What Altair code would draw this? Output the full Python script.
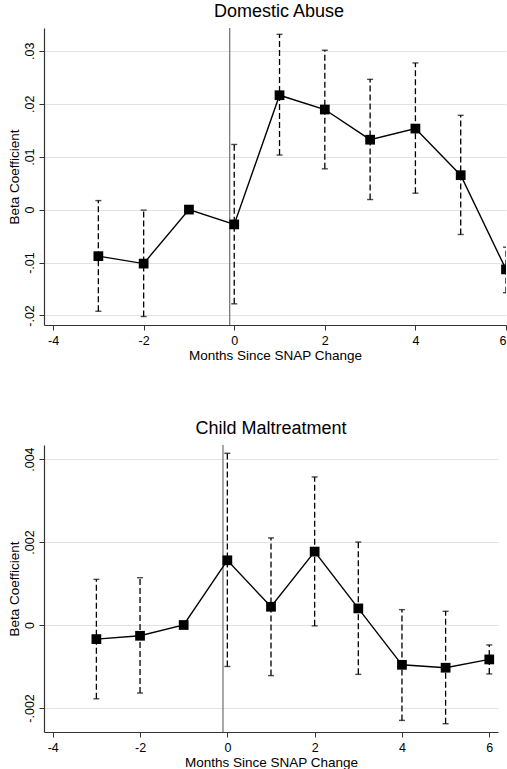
import altair as alt
import pandas as pd

months = [-3, -2, -1, 0, 1, 2, 3, 4, 5, 6]

# Domestic Abuse
da_beta = [-0.0088, -0.0102, 0.0, -0.0028, 0.0216, 0.0189, 0.0132, 0.0153, 0.0065, -0.0113]
da_lo = [-0.0192, -0.0202, None, -0.0178, 0.0103, 0.0077, 0.0019, 0.0031, -0.0047, -0.0157]
da_hi = [0.0017, -0.0001, None, 0.0123, 0.0331, 0.0301, 0.0246, 0.0277, 0.0178, -0.0071]

# Child Maltreatment
cm_beta = [-0.00034, -0.00026, 0.0, 0.00156, 0.00044, 0.00177, 0.00040, -0.00096, -0.00103, -0.00083]
cm_lo = [-0.00178, -0.00164, None, -0.00100, -0.00122, -0.00002, -0.00119, -0.00230, -0.00238, -0.00118]
cm_hi = [0.00110, 0.00114, None, 0.00414, 0.00210, 0.00357, 0.00200, 0.00037, 0.00033, -0.00048]

x_ticks = [-4, -2, 0, 2, 4, 6]
event_line = -0.1

FONT = "Liberation Sans"


def panel(title, beta, lo, hi, xdom, ydom, yticks, yfmt, width, height, title_dx):
    df = pd.DataFrame({"month": months, "beta": beta, "lo": lo, "hi": hi})
    xs = alt.Scale(domain=xdom, nice=False, zero=False)
    ys = alt.Scale(domain=ydom, nice=False, zero=False)
    x = alt.X("month:Q", scale=xs,
              axis=alt.Axis(values=x_ticks, title="Months Since SNAP Change", grid=False,
                            labelPadding=4.5, titlePadding=1,
                            labelExpr="datum.value + ''"))
    y = alt.Y("beta:Q", scale=ys,
              axis=alt.Axis(values=yticks, title="Beta Coefficient", grid=True,
                            labelAngle=-90, labelAlign="center", labelBaseline="bottom",
                            labelPadding=3, titlePadding=2,
                            labelExpr=("datum.value == 0 ? '0' : (datum.value < 0 ? '-' : '') + "
                                       f"replace(format(abs(datum.value), '{yfmt}'), '0.', '.')")))
    base = alt.Chart(df)
    vline = alt.Chart(pd.DataFrame({"v": [event_line]})).mark_rule(
        color="#6e6e6e", strokeWidth=1.2).encode(x=alt.X("v:Q", scale=xs))
    ci = base.transform_filter("isValid(datum.lo)")
    bars = ci.mark_rule(color="black", strokeWidth=1.3, strokeDash=[6, 3], clip=True).encode(
        x=alt.X("month:Q", scale=xs), y=alt.Y("lo:Q", scale=ys), y2="hi:Q")
    cap_lo = ci.mark_tick(orient="horizontal", color="black", size=6, thickness=1.4, clip=True).encode(
        x=alt.X("month:Q", scale=xs), y=alt.Y("lo:Q", scale=ys))
    cap_hi = ci.mark_tick(orient="horizontal", color="black", size=6, thickness=1.4, clip=True).encode(
        x=alt.X("month:Q", scale=xs), y=alt.Y("hi:Q", scale=ys))
    line = base.mark_line(color="black", strokeWidth=1.4, clip=True).encode(x=x, y=y)
    pts = base.mark_square(size=95, color="black", opacity=1, clip=True).encode(x=x, y=y)
    return alt.layer(vline, bars, cap_lo, cap_hi, line, pts).properties(
        width=width, height=height,
        title=alt.TitleParams(title, fontSize=18, font=FONT, fontWeight="normal",
                              color="black", offset=6, dx=title_dx))


top = panel("Domestic Abuse", da_beta, da_lo, da_hi, [-4.2, 6.0], [-0.0218, 0.0343],
            [-0.02, -0.01, 0, 0.01, 0.02, 0.03], ".2f", 462, 297, 4)
bottom = panel("Child Maltreatment", cm_beta, cm_lo, cm_hi, [-4.2, 6.2], [-0.00258, 0.00434],
               [-0.002, 0, 0.002, 0.004], ".3f", 454, 287, 0)

chart = alt.vconcat(top, bottom, spacing=58).properties(
    padding={"left": 7, "top": 3, "right": 0, "bottom": 0},
    background="white",
).configure_view(stroke=None).configure_axis(
    labelFont=FONT, titleFont=FONT, labelFontSize=12.5, titleFontSize=13.5,
    titleFontWeight="normal", labelColor="black", titleColor="black",
    domainColor="#333333", tickColor="#333333", tickSize=5, domainWidth=1.2,
    gridColor="#e2e2e2", gridWidth=1.2,
).configure_concat(spacing=58)

chart.save("out.html", embed_options={"renderer": "svg", "actions": False})
